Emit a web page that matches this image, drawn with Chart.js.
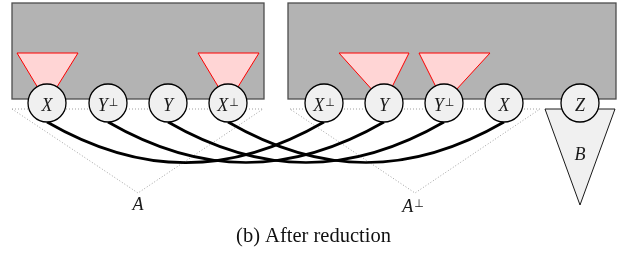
<!DOCTYPE html>
<html>
<head>
<meta charset="utf-8">
<script src="https://cdn.jsdelivr.net/npm/chart.js@4.4.1/dist/chart.umd.min.js"></script>
<style>
  html, body { margin: 0; padding: 0; background: #fff; }
  #wrap { width: 621px; height: 254px; position: relative; }
</style>
</head>
<body>
<div id="wrap"><canvas id="diagram"></canvas></div>
<script>
// nodes (circles) - x/y positions in diagram units, labels split in base + superscript
const nodeX = [47, 108, 168, 228, 324, 384, 444, 504, 580];
const nodeY = [103, 103, 103, 103, 103, 103, 103, 103, 103];
const nodeBase = ['X', 'Y', 'Y', 'X', 'X', 'Y', 'Y', 'X', 'Z'];
const nodeSup = ['', '⊥', '', '⊥', '⊥', '', '⊥', '', ''];

// connections between nodes (index pairs)
const links = [[0, 4], [1, 5], [2, 6], [3, 7]];

// grey boxes [x0, y0, x1, y1]
const boxes = [[12, 3, 264, 99], [288, 3, 616, 99]];

// red wedges: [left top x, right top x, top y, apex node]
const wedges = [[17, 78, 53, 0], [198, 259, 53, 3], [339, 409, 53, 5], [419, 490, 53, 6]];

// dotted triangles A and A-perp, and the B triangle
const dotTriangles = [
  [[12, 109], [263, 109], [138, 193]],
  [[290, 109], [540, 109], [415, 193]]
];
const bTriangle = [[545, 109], [615, 109], [580, 205]];

// free text labels
const textBase = ['A', 'A', 'B'];
const textSup = ['', '⊥', ''];
const textX = [138, 413, 580];
const textY = [202.5, 204.5, 152.5];

const caption = '(b) After reduction';
const captionPos = [313.5, 242];

const mathFont = 'italic 18px "Liberation Serif", "DejaVu Serif", serif';
const supFont = '11px "DejaVu Sans", "Liberation Serif", serif';

function drawMath(ctx, base, sup, px, py) {
  ctx.font = mathFont;
  const wb = ctx.measureText(base).width;
  ctx.font = supFont;
  const ws = sup ? ctx.measureText(sup).width + 1 : 0;
  const x0 = px - (wb + ws) / 2;
  ctx.fillStyle = '#1a1a1a';
  ctx.textAlign = 'left';
  ctx.textBaseline = 'alphabetic';
  ctx.font = mathFont;
  ctx.fillText(base, x0, py + 7.5);
  if (sup) {
    ctx.font = supFont;
    ctx.fillText(sup, x0 + wb + 1, py + 2.5);
  }
}

const diagramPlugin = {
  id: 'diagram',
  beforeDatasetsDraw(chart) {
    const ctx = chart.ctx;
    const xs = chart.scales.x, ys = chart.scales.y;
    const X = v => xs.getPixelForValue(v);
    const Y = v => ys.getPixelForValue(v);
    ctx.save();

    // grey boxes
    boxes.forEach(b => {
      ctx.fillStyle = '#b3b3b3';
      ctx.strokeStyle = '#4d4d4d';
      ctx.lineWidth = 1.3;
      ctx.fillRect(X(b[0]), Y(b[1]), X(b[2]) - X(b[0]), Y(b[3]) - Y(b[1]));
      ctx.strokeRect(X(b[0]), Y(b[1]), X(b[2]) - X(b[0]), Y(b[3]) - Y(b[1]));
    });

    // red wedges pointing at node centres
    wedges.forEach(w => {
      const n = w[3];
      ctx.beginPath();
      ctx.moveTo(X(w[0]), Y(w[2]));
      ctx.lineTo(X(w[1]), Y(w[2]));
      ctx.lineTo(X(nodeX[n]), Y(nodeY[n]));
      ctx.closePath();
      ctx.fillStyle = '#ffd5d5';
      ctx.fill();
      ctx.strokeStyle = '#ff0000';
      ctx.lineWidth = 1;
      ctx.stroke();
    });

    // dotted triangles
    ctx.setLineDash([1, 2]);
    ctx.strokeStyle = '#a0a0a0';
    ctx.lineWidth = 1;
    dotTriangles.forEach(t => {
      ctx.beginPath();
      ctx.moveTo(X(t[0][0]), Y(t[0][1]));
      ctx.lineTo(X(t[1][0]), Y(t[1][1]));
      ctx.lineTo(X(t[2][0]), Y(t[2][1]));
      ctx.closePath();
      ctx.stroke();
    });
    ctx.setLineDash([]);

    // B triangle
    ctx.beginPath();
    ctx.moveTo(X(bTriangle[0][0]), Y(bTriangle[0][1]));
    ctx.lineTo(X(bTriangle[1][0]), Y(bTriangle[1][1]));
    ctx.lineTo(X(bTriangle[2][0]), Y(bTriangle[2][1]));
    ctx.closePath();
    ctx.fillStyle = '#f0f0f0';
    ctx.fill();
    ctx.strokeStyle = '#000';
    ctx.lineWidth = 0.9;
    ctx.stroke();

    // connecting curves (leave at -30 deg, arrive at -150 deg)
    ctx.strokeStyle = '#000';
    ctx.lineWidth = 2.7;
    links.forEach(l => {
      const a = l[0], b = l[1];
      const d = Math.abs(nodeX[b] - nodeX[a]) * 0.3915;
      const r = 19;
      const dx = d * Math.cos(Math.PI / 6), dy = d * Math.sin(Math.PI / 6);
      ctx.beginPath();
      ctx.moveTo(X(nodeX[a]), Y(nodeY[a] + r));
      ctx.bezierCurveTo(X(nodeX[a] + dx), Y(nodeY[a] + r + dy),
                        X(nodeX[b] - dx), Y(nodeY[b] + r + dy),
                        X(nodeX[b]), Y(nodeY[b] + r));
      ctx.stroke();
    });
    ctx.restore();
  },
  afterDatasetsDraw(chart) {
    const ctx = chart.ctx;
    const xs = chart.scales.x, ys = chart.scales.y;
    ctx.save();
    nodeX.forEach((x, i) => {
      drawMath(ctx, nodeBase[i], nodeSup[i], xs.getPixelForValue(x), ys.getPixelForValue(nodeY[i]));
    });
    textX.forEach((x, i) => {
      drawMath(ctx, textBase[i], textSup[i], xs.getPixelForValue(x), ys.getPixelForValue(textY[i]));
    });
    ctx.font = '20.5px "Liberation Serif", "Times New Roman", serif';
    ctx.fillStyle = '#111';
    ctx.textAlign = 'center';
    ctx.textBaseline = 'alphabetic';
    ctx.fillText(caption, xs.getPixelForValue(captionPos[0]), ys.getPixelForValue(captionPos[1]));
    ctx.restore();
  }
};

new Chart(document.getElementById('diagram'), {
  type: 'scatter',
  data: {
    datasets: [{
      data: nodeX.map((x, i) => ({ x: x, y: nodeY[i] })),
      pointRadius: 19,
      pointHoverRadius: 19,
      pointBackgroundColor: '#f0f0f0',
      pointBorderColor: '#000',
      pointBorderWidth: 1.3,
      clip: false
    }]
  },
  options: {
    responsive: true,
    maintainAspectRatio: false,
    animation: false,
    events: [],
    layout: { padding: 0, autoPadding: false },
    plugins: { legend: { display: false }, tooltip: { enabled: false } },
    scales: {
      x: { type: 'linear', min: 0, max: 621, display: false },
      y: { type: 'linear', min: 0, max: 254, reverse: true, display: false }
    }
  },
  plugins: [diagramPlugin]
});
</script>
</body>
</html>
